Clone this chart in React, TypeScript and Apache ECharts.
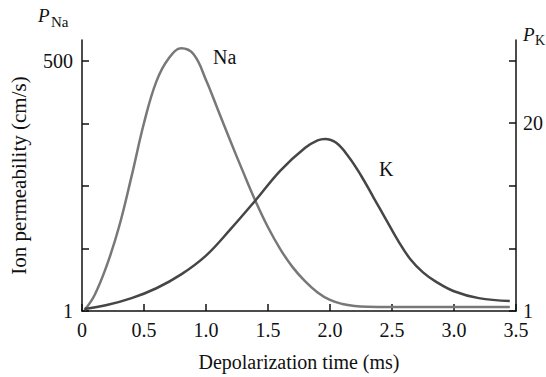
import React, { useEffect, useRef } from "react";
import * as echarts from "echarts";

// Depolarization time (ms) for the sodium curve
const naTime = [0.02, 0.1, 0.2, 0.3, 0.4, 0.5, 0.6, 0.7, 0.8, 0.9, 1.0, 1.1, 1.2, 1.3, 1.4, 1.5, 1.6, 1.7, 1.8, 1.9, 2.0, 2.1, 2.2, 2.3, 2.5, 3.45];
// Sodium permeability (cm/s, left scale)
const naPerm = [3, 32, 92, 170, 270, 376, 459, 505, 525, 513, 462, 400, 338, 278, 220, 168, 124, 88, 60, 38, 23, 15, 11, 9.5, 9, 9];

// Depolarization time (ms) for the potassium curve
const kTime = [0.02, 0.2, 0.4, 0.6, 0.8, 1.0, 1.2, 1.4, 1.6, 1.8, 1.9, 1.96, 2.05, 2.15, 2.25, 2.35, 2.45, 2.55, 2.65, 2.75, 2.85, 3.0, 3.2, 3.45];
// Potassium permeability (right scale)
const kPerm = [1.2, 1.6, 2.3, 3.3, 4.7, 6.6, 9.3, 12.2, 15.2, 17.5, 18.25, 18.4, 18.0, 16.6, 14.7, 12.5, 10.3, 8.1, 6.2, 4.9, 4.0, 3.0, 2.3, 2.0];

const xTicks = [0, 0.5, 1.0, 1.5, 2.0, 2.5, 3.0, 3.5];
const leftTicks = [1, 125.75, 250.5, 375.25, 500];
const leftLabels = [1, 500];
const rightTicks = [1, 7.333, 13.667, 20, 26.333];
const rightLabels = [1, 20];

const FONT = "'Liberation Serif', 'DejaVu Serif', serif";

export default function App() {
  const ref = useRef<HTMLDivElement>(null);
  useEffect(() => {
    if (!ref.current) return;
    const chart = echarts.init(ref.current, null, { renderer: "svg" });
    const axisLine = { show: true, lineStyle: { color: "#111", width: 1.5 } };
    const tick = { show: true, inside: true, length: 7, lineStyle: { color: "#111", width: 1.5 } };
    const labelStyle = { fontFamily: FONT, fontSize: 20, color: "#111" };
    chart.setOption({
      animation: false,
      backgroundColor: "#fff",
      textStyle: { fontFamily: FONT },
      grid: { left: 81, right: 30, top: 40, bottom: 62 },
      xAxis: {
        type: "value",
        min: 0,
        max: 3.5,
        interval: 0.5,
        name: "Depolarization time (ms)",
        nameLocation: "middle",
        nameGap: 41,
        nameTextStyle: { fontFamily: FONT, fontSize: 20, color: "#111" },
        axisLine,
        axisTick: { ...tick, customValues: xTicks },
        splitLine: { show: false },
        axisLabel: {
          ...labelStyle,
          customValues: xTicks,
          margin: 9,
          formatter: (v: number) => (v === 0 ? "0" : v.toFixed(1)),
        },
      },
      yAxis: [
        {
          type: "value",
          position: "left",
          min: 1,
          max: 541.6,
          name: "Ion permeability (cm/s)",
          nameLocation: "middle",
          nameGap: 53,
          nameRotate: 90,
          nameTextStyle: { fontFamily: FONT, fontSize: 21, color: "#111" },
          axisLine,
          axisTick: { ...tick, customValues: leftTicks },
          splitLine: { show: false },
          axisLabel: {
            ...labelStyle,
            customValues: leftLabels,
            margin: 9,
            padding: [0, 0, 6, 0],
            formatter: (v: number) => String(Math.round(v)),
          },
        },
        {
          type: "value",
          position: "right",
          min: 1,
          max: 28.4,
          axisLine,
          axisTick: { ...tick, customValues: rightTicks },
          splitLine: { show: false },
          axisLabel: {
            ...labelStyle,
            customValues: rightLabels,
            margin: 7,
            padding: [0, 0, 8, 0],
            formatter: (v: number) => String(Math.round(v)),
          },
        },
      ],
      series: [
        {
          name: "Na",
          type: "line",
          yAxisIndex: 0,
          smooth: 0.4,
          symbol: "none",
          lineStyle: { color: "#787878", width: 2.5 },
          data: naTime.map((t, i) => [t, naPerm[i]]),
        },
        {
          name: "K",
          type: "line",
          yAxisIndex: 1,
          smooth: 0.4,
          symbol: "none",
          lineStyle: { color: "#464646", width: 2.5 },
          data: kTime.map((t, i) => [t, kPerm[i]]),
        },
      ],
      graphic: [
        { type: "text", left: 38, top: 6, style: { text: "P", font: `italic 19px ${FONT}`, fill: "#111" } },
        { type: "text", left: 51, top: 14, style: { text: "Na", font: `15px ${FONT}`, fill: "#111" } },
        { type: "text", left: 523, top: 25, style: { text: "P", font: `italic 19px ${FONT}`, fill: "#111" } },
        { type: "text", left: 535, top: 33, style: { text: "K", font: `14px ${FONT}`, fill: "#111" } },
        { type: "text", left: 213, top: 47, style: { text: "Na", font: `20px ${FONT}`, fill: "#111" } },
        { type: "text", left: 379, top: 159, style: { text: "K", font: `20px ${FONT}`, fill: "#111" } },
      ],
    });
    return () => chart.dispose();
  }, []);
  return <div ref={ref} style={{ width: 546, height: 377, position: "absolute", left: 0, top: 0 }} />;
}
